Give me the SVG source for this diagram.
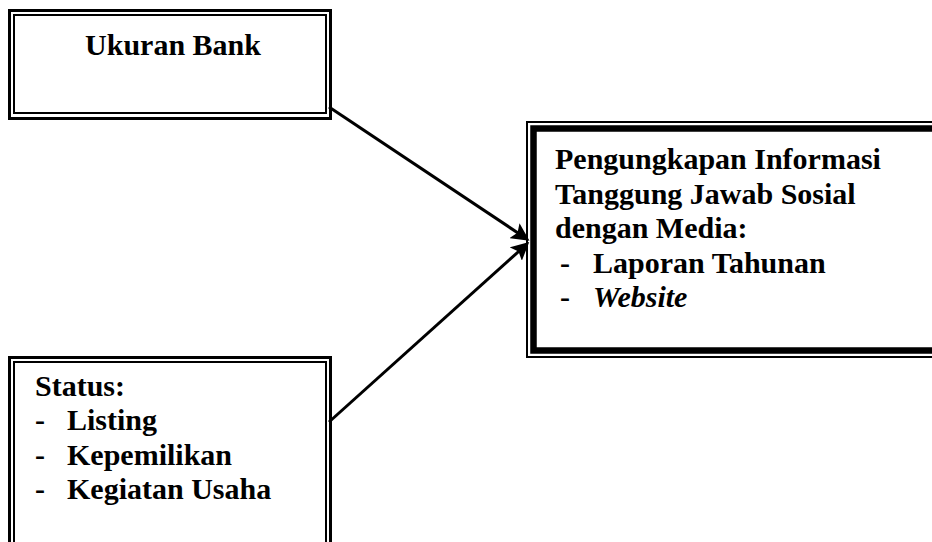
<svg xmlns="http://www.w3.org/2000/svg" width="932" height="542" viewBox="0 0 932 542">
<style>
.t{font-family:"Liberation Serif","Times New Roman",serif;font-weight:bold;font-size:30px;fill:#000}
.i{font-style:italic}
.o{fill:none;stroke:#000;stroke-width:3}
.n{fill:none;stroke:#000;stroke-width:2}
.c{fill:none;stroke:#000;stroke-width:3}
</style>
<defs>
<marker id="ah" markerWidth="6" markerHeight="6" refX="5" refY="3" orient="auto" markerUnits="strokeWidth">
<path d="M0,0 L6,3 L0,6 L1.2,3 Z" fill="#000"/>
</marker>
</defs>
<rect width="932" height="542" fill="#fff"/>
<g id="ukuran-bank">
<rect class="o" x="9.5" y="10.5" width="321" height="108"/>
<rect class="n" x="14" y="15" width="312" height="98"/>
<text class="t" x="173" y="55" text-anchor="middle">Ukuran Bank</text>
</g>
<g id="status">
<rect class="o" x="9.5" y="357.5" width="321" height="200"/>
<rect class="n" x="14" y="362" width="312" height="190"/>
<text class="t" x="35" y="396">Status:</text>
<text class="t" x="35" y="430">-</text><text class="t" x="67" y="430">Listing</text>
<text class="t" x="35" y="465">-</text><text class="t" x="67" y="465">Kepemilikan</text>
<text class="t" x="35" y="499">-</text><text class="t" x="67" y="499">Kegiatan Usaha</text>
</g>
<g id="pengungkapan">
<rect class="n" x="527" y="122" width="420" height="235"/>
<rect fill="none" stroke="#000" stroke-width="6.5" x="533.5" y="128.5" width="410" height="222"/>
<text class="t" x="555" y="169">Pengungkapan Informasi</text>
<text class="t" x="555" y="204">Tanggung Jawab Sosial</text>
<text class="t" x="555" y="238">dengan Media:</text>
<text class="t" x="560" y="273">-</text><text class="t" x="593" y="273">Laporan Tahunan</text>
<text class="t" x="560" y="307">-</text><text class="t i" x="593" y="307">Website</text>
</g>
<g id="connectors">
<line class="c" x1="329" y1="107" x2="527" y2="239" marker-end="url(#ah)"/>
<line class="c" x1="329" y1="422" x2="527" y2="244" marker-end="url(#ah)"/>
</g>
</svg>
